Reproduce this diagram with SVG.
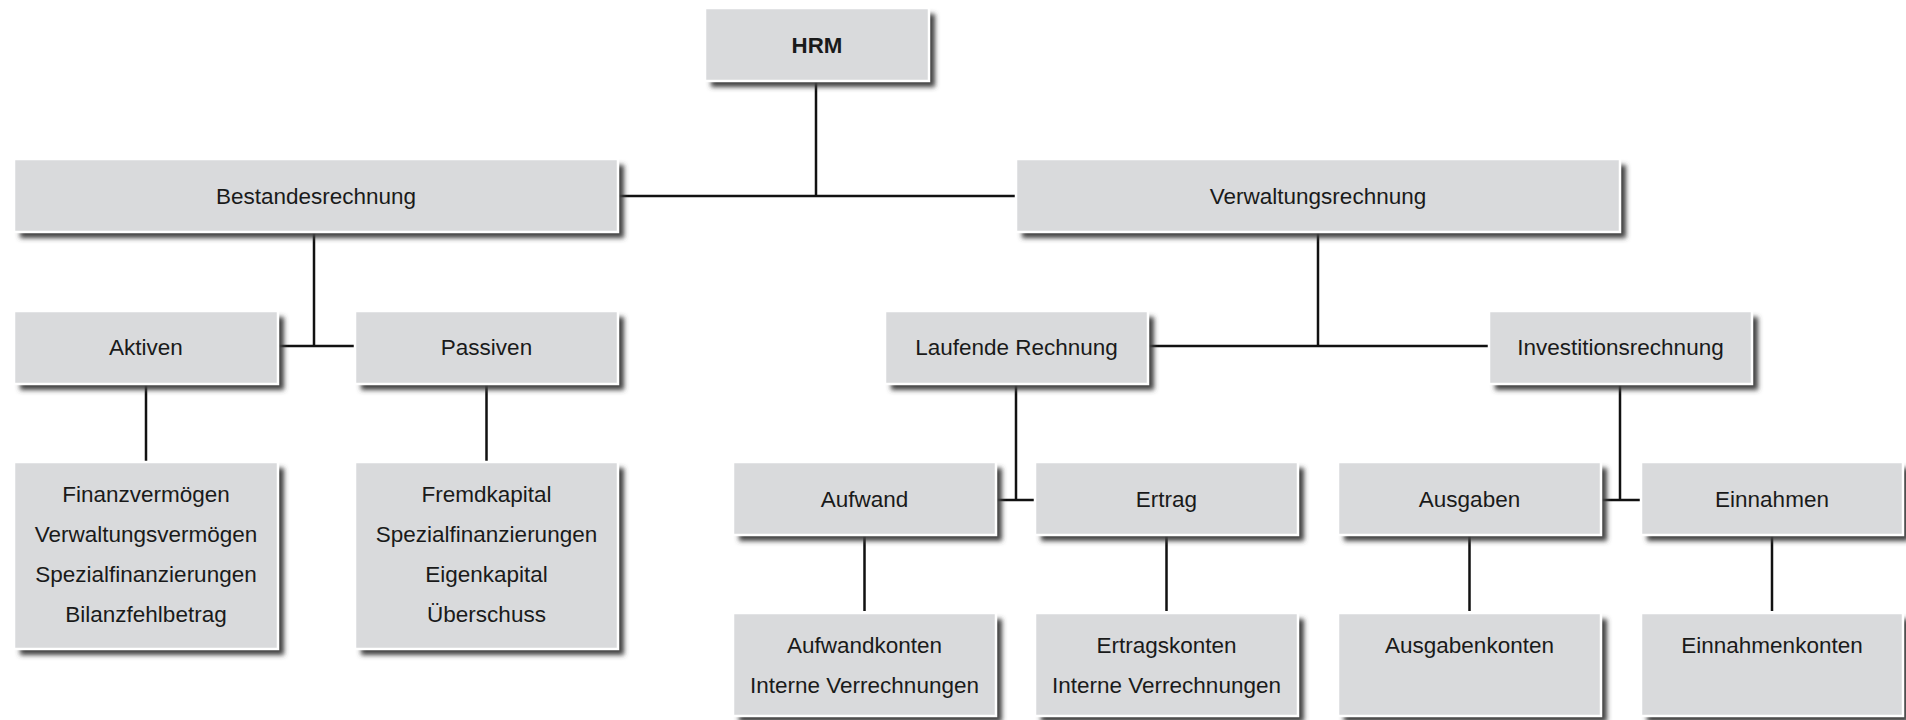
<svg xmlns="http://www.w3.org/2000/svg" width="1906" height="720" viewBox="0 0 1906 720">
<defs>
<filter id="blur" x="-10%" y="-30%" width="120%" height="160%">
<feGaussianBlur stdDeviation="2.6"/>
</filter>
<style>
.sh{fill:#3f3f3f;filter:url(#blur);}
.box{fill:#d9dadc;stroke:#ffffff;stroke-width:2.5;}
.t{font-family:"Liberation Sans",Arial,sans-serif;font-size:22.5px;fill:#1a1a1a;text-anchor:middle;}
.b{font-weight:bold;font-size:22.3px;}
.c{stroke:#111111;stroke-width:2.5;fill:none;}
</style>
</defs>
<rect width="1906" height="720" fill="#ffffff"/>
<g id="connectors">
<path class="c" d="M816 82 V196 M618 196 H1016"/>
<path class="c" d="M314 233 V346 M278 346 H355"/>
<path class="c" d="M146 385 V461 M486.5 385 V461"/>
<path class="c" d="M1318 233 V346 M1148 346 H1489"/>
<path class="c" d="M1016 385 V500 M996 500 H1035"/>
<path class="c" d="M1620 385 V500 M1601 500 H1641"/>
<path class="c" d="M864.5 536 V611 M1166.5 536 V611 M1469.5 536 V611 M1772 536 V611"/>
</g>
<g id="hrm">
<rect class="sh" x="711" y="14" width="224" height="73"/>
<rect class="box" x="705" y="8" width="224" height="73"/>
<text class="t b" x="817" y="53">HRM</text>
</g>
<g id="bestandesrechnung">
<rect class="sh" x="20" y="165" width="604" height="73"/>
<rect class="box" x="14" y="159" width="604" height="73"/>
<text class="t" x="316" y="204">Bestandesrechnung</text>
</g>
<g id="verwaltungsrechnung">
<rect class="sh" x="1022" y="165" width="604" height="73"/>
<rect class="box" x="1016" y="159" width="604" height="73"/>
<text class="t" x="1318" y="204">Verwaltungsrechnung</text>
</g>
<g id="aktiven">
<rect class="sh" x="20" y="317" width="264" height="73"/>
<rect class="box" x="14" y="311" width="264" height="73"/>
<text class="t" x="146" y="355">Aktiven</text>
</g>
<g id="passiven">
<rect class="sh" x="361" y="317" width="263" height="73"/>
<rect class="box" x="355" y="311" width="263" height="73"/>
<text class="t" x="486.5" y="355">Passiven</text>
</g>
<g id="laufende-rechnung">
<rect class="sh" x="891" y="317" width="263" height="73"/>
<rect class="box" x="885" y="311" width="263" height="73"/>
<text class="t" x="1016.5" y="355">Laufende Rechnung</text>
</g>
<g id="investitionsrechnung">
<rect class="sh" x="1495" y="317" width="263" height="73"/>
<rect class="box" x="1489" y="311" width="263" height="73"/>
<text class="t" x="1620.5" y="355">Investitionsrechnung</text>
</g>
<g id="aktiven-konten">
<rect class="sh" x="20" y="468" width="264" height="187"/>
<rect class="box" x="14" y="462" width="264" height="187"/>
<text class="t" x="146" y="502">Finanzvermögen</text>
<text class="t" x="146" y="542">Verwaltungsvermögen</text>
<text class="t" x="146" y="582">Spezialfinanzierungen</text>
<text class="t" x="146" y="622">Bilanzfehlbetrag</text>
</g>
<g id="passiven-konten">
<rect class="sh" x="361" y="468" width="263" height="187"/>
<rect class="box" x="355" y="462" width="263" height="187"/>
<text class="t" x="486.5" y="502">Fremdkapital</text>
<text class="t" x="486.5" y="542">Spezialfinanzierungen</text>
<text class="t" x="486.5" y="582">Eigenkapital</text>
<text class="t" x="486.5" y="622">Überschuss</text>
</g>
<g id="aufwand">
<rect class="sh" x="739" y="468" width="263" height="73"/>
<rect class="box" x="733" y="462" width="263" height="73"/>
<text class="t" x="864.5" y="507">Aufwand</text>
</g>
<g id="ertrag">
<rect class="sh" x="1041" y="468" width="263" height="73"/>
<rect class="box" x="1035" y="462" width="263" height="73"/>
<text class="t" x="1166.5" y="507">Ertrag</text>
</g>
<g id="ausgaben">
<rect class="sh" x="1344" y="468" width="263" height="73"/>
<rect class="box" x="1338" y="462" width="263" height="73"/>
<text class="t" x="1469.5" y="507">Ausgaben</text>
</g>
<g id="einnahmen">
<rect class="sh" x="1647" y="468" width="262" height="73"/>
<rect class="box" x="1641" y="462" width="262" height="73"/>
<text class="t" x="1772" y="507">Einnahmen</text>
</g>
<g id="aufwandkonten">
<rect class="sh" x="739" y="619" width="263" height="103"/>
<rect class="box" x="733" y="613" width="263" height="103"/>
<text class="t" x="864.5" y="653">Aufwandkonten</text>
<text class="t" x="864.5" y="693">Interne Verrechnungen</text>
</g>
<g id="ertragskonten">
<rect class="sh" x="1041" y="619" width="263" height="103"/>
<rect class="box" x="1035" y="613" width="263" height="103"/>
<text class="t" x="1166.5" y="653">Ertragskonten</text>
<text class="t" x="1166.5" y="693">Interne Verrechnungen</text>
</g>
<g id="ausgabenkonten">
<rect class="sh" x="1344" y="619" width="263" height="103"/>
<rect class="box" x="1338" y="613" width="263" height="103"/>
<text class="t" x="1469.5" y="653">Ausgabenkonten</text>
</g>
<g id="einnahmenkonten">
<rect class="sh" x="1647" y="619" width="262" height="103"/>
<rect class="box" x="1641" y="613" width="262" height="103"/>
<text class="t" x="1772" y="653">Einnahmenkonten</text>
</g>
</svg>
